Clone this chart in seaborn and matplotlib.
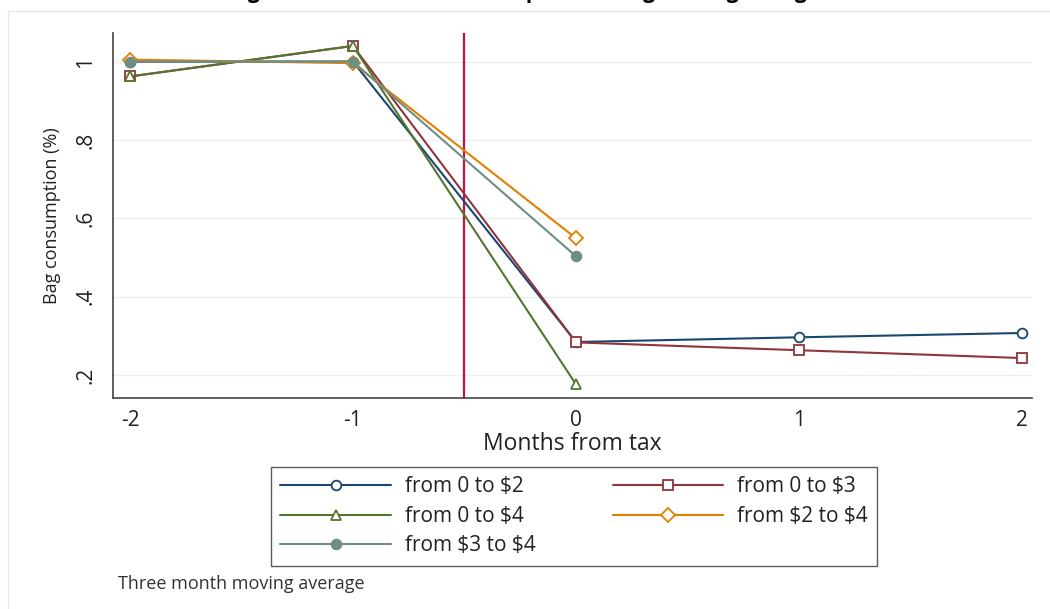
import numpy as np
import pandas as pd
import matplotlib
matplotlib.use('Agg')
import matplotlib.pyplot as plt
import seaborn as sns

# months relative to the tax, and the series
months = [-2, -1, 0, 1, 2]
s_0_2 = [1.000, 1.000, 0.284, 0.296, 0.307]
s_0_3 = [0.962, 1.040, 0.283, 0.263, 0.243]
s_0_4 = [0.962, 1.040, 0.176]
s_2_4 = [1.005, 0.996, 0.549]
s_3_4 = [1.000, 1.000, 0.503]

labels = [r'from 0 to \$2', r'from 0 to \$3', r'from 0 to \$4', r'from \$2 to \$4', r'from \$3 to \$4']
series = [s_0_2, s_0_3, s_0_4, s_2_4, s_3_4]
colors = ['#1a476f', '#90353b', '#55752f', '#e37e00', '#6e8e84']
markers = ['o', 's', '^', 'D', 'o']
filled = [False, False, False, False, True]
msizes = [9, 9, 9, 8, 9]

tax_line = -0.5
yticks = [0.2, 0.4, 0.6, 0.8, 1.0]
ytick_labels = ['.2', '.4', '.6', '.8', '1']
xticks = [-2, -1, 0, 1, 2]

sns.set_style('white')
plt.rcParams['font.family'] = ['Open Sans', 'DejaVu Sans']

fig = plt.figure(figsize=(10.5, 6.09), dpi=100)
ax = fig.add_axes([113 / 1050, 1 - 398 / 609, (1032 - 113) / 1050, (398 - 33) / 609])

# faint outer graph-region border
fig.patches.append(plt.Rectangle((8 / 1050, -0.01), 1.0, 1 - 11 / 609 + 0.01,
                                 transform=fig.transFigure, fill=False,
                                 edgecolor='#e6e6e6', linewidth=1.0, zorder=0))

for y in yticks:
    ax.axhline(y, color='#eeeeee', linewidth=1.0, zorder=0)

ax.axvline(tax_line, color='#c8103e', linewidth=1.6, zorder=1)

for vals, lab, c, m, f, ms in zip(series, labels, colors, markers, filled, msizes):
    sns.lineplot(x=months[:len(vals)], y=vals, ax=ax, color=c, marker=m,
                 markersize=ms, markerfacecolor=c if f else 'white',
                 markeredgecolor=c, markeredgewidth=1.3, linewidth=1.5,
                 label=lab, zorder=3)

h, l = ax.get_legend_handles_labels()
for hh in h:
    hh.set_markersize(7)
order = [0, 2, 4, 1, 3]
leg = ax.legend([h[i] for i in order], [l[i] for i in order], ncol=2,
                loc='upper center', bbox_to_anchor=(574 / 1050, 1 - 467 / 609),
                bbox_transform=fig.transFigure, frameon=True, fancybox=False,
                fontsize=15, handlelength=5.3, handletextpad=0.67,
                columnspacing=3.7, labelspacing=0.41, borderpad=0.45,
                borderaxespad=0, edgecolor='#333333')
leg.get_frame().set_linewidth(1.0)
for t in leg.get_texts():
    t.set_color('#222222')

ax.set_xlim(-2.076, 2.045)
ax.set_ylim(0.141, 1.073)
ax.set_xticks(xticks)
ax.set_xticklabels([str(x) for x in xticks], fontsize=15, color='#222222')
ax.set_yticks(yticks)
ax.set_yticklabels(ytick_labels, fontsize=15, rotation=90, va='center', color='#222222')
ax.tick_params(axis='both', direction='out', length=6, width=1, color='#333333', pad=6)
ax.tick_params(axis='x', pad=3)

for side in ['top', 'right']:
    ax.spines[side].set_visible(False)
for side in ['left', 'bottom']:
    ax.spines[side].set_color('#444444')
    ax.spines[side].set_linewidth(1.2)

ax.set_xlabel('Months from tax', fontsize=16.5, color='#222222', labelpad=0)
ax.set_ylabel('Bag consumption (%)', fontsize=13, color='#222222', labelpad=10)

fig.text(118 / 1050, 1 - 584 / 609, 'Three month moving average', fontsize=13,
         color='#333333', va='center', ha='left')

# title sits mostly above the canvas; only its descenders show
fig.text(0.5, 1.003, 'Figure 5: Shift in the consumption during the bag change',
         fontsize=15, fontweight='bold', ha='center', va='baseline', color='#000000')

fig.savefig('out.png', dpi=100)
